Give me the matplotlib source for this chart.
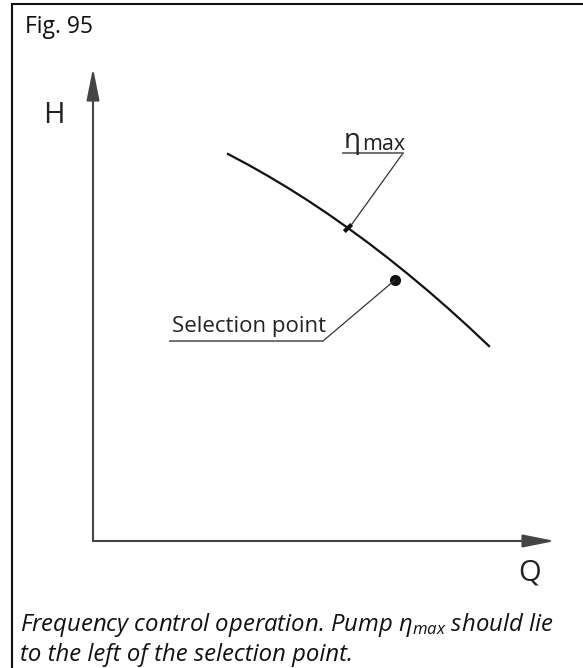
import matplotlib.pyplot as plt
from matplotlib.lines import Line2D

plt.rcParams['font.family'] = ['Open Sans', 'DejaVu Sans']
plt.rcParams['mathtext.fontset'] = 'custom'
plt.rcParams['mathtext.rm'] = 'Open Sans'
plt.rcParams['mathtext.it'] = 'Open Sans:italic'

# pump curve H(Q), arbitrary units (axes run 0..100)
Q = [29.22, 33.55, 37.88, 42.21, 46.54, 50.87, 55.19, 59.52, 63.85, 68.18, 72.51,
     76.84, 81.17, 85.71]
H = [81.82, 79.57, 77.17, 74.64, 71.96, 69.14, 66.17, 63.07, 59.82, 56.42, 52.89,
     49.21, 45.39, 41.22]

# best efficiency point on the curve and the selection point
eta_q, eta_h = 55.19, 66.17
sel_q, sel_h = 65.4, 55.2

# label anchors
eta_label = (54.1, 67.1, 82.0)   # underline from q0 to q1 at h
sel_label = (16.7, 49.8, 42.3)

caption = ("Frequency control operation. Pump $\\eta_{max}$ should lie\n"
           "to the left of the selection point.")

fig = plt.figure(figsize=(5.83, 6.68), dpi=100)
W, Hpx = 583, 668

# frame (top and left edge)
fig.add_artist(Line2D([12 / W, 12 / W], [0, 1 - 4 / Hpx], color='#111', lw=1.5))
fig.add_artist(Line2D([12 / W, 1], [1 - 4 / Hpx, 1 - 4 / Hpx], color='#111', lw=1.5))
fig.text(25 / W, 1 - 33 / Hpx, "Fig. 95", fontsize=16.5, color='#111', va='baseline')

ax = fig.add_axes([93 / W, 127 / Hpx, 462 / W, 473 / Hpx])
ax.set_xlim(0, 100)
ax.set_ylim(0, 100)
ax.axis('off')

# axes with arrow heads
arrow = dict(arrowstyle='-|>,head_length=1.4,head_width=0.28', mutation_scale=14,
             lw=1.5, color='#444', shrinkA=0, shrinkB=0)
ax.annotate('', xy=(0, 100), xytext=(0, 0), arrowprops=arrow, annotation_clip=False)
ax.annotate('', xy=(100, 0), xytext=(0, 0), arrowprops=arrow, annotation_clip=False)
ax.text(-8.4, 89.9, "H", fontsize=21, color='#222', ha='center', va='center')
ax.text(94.4, -6.8, "Q", fontsize=21, color='#222', ha='center', va='center')

# pump curve
ax.plot(Q, H, color='#111', lw=1.6, solid_joinstyle='round')

# eta_max marker and leader
dq, dh = 0.8, 0.75
ax.plot([eta_q - dq, eta_q + dq], [eta_h - dh, eta_h + dh], color='#111', lw=3,
        solid_capstyle='butt')
ax.plot([eta_q + dq, eta_label[1]], [eta_h + dh, eta_label[2]], color='#333', lw=0.9)
ax.plot(eta_label[:2], [eta_label[2]] * 2, color='#666', lw=1.3)
ax.text(eta_label[0] + 0.2, eta_label[2] + 1.0, "η", fontsize=20, color='#222',
        va='baseline')
ax.text(eta_label[0] + 4.2, eta_label[2] + 0.6, "max", fontsize=15.5, color='#222',
        va='baseline')

# selection point and leader
ax.plot(sel_q, sel_h, 'o', ms=7, color='#111')
ax.plot([sel_q, sel_label[1]], [sel_h, sel_label[2]], color='#333', lw=0.9)
ax.plot(sel_label[:2], [sel_label[2]] * 2, color='#666', lw=1.3)
ax.text(sel_label[0] + 0.4, sel_label[2] + 1.9, "Selection point", fontsize=16,
        color='#222', va='baseline')

# caption, anchored at the baseline of its last line
fig.text(20 / W, 1 - 661 / Hpx, caption, fontsize=17.2, style='italic', color='#111',
         va='baseline', linespacing=1.2)

fig.savefig("out.png", dpi=100)
